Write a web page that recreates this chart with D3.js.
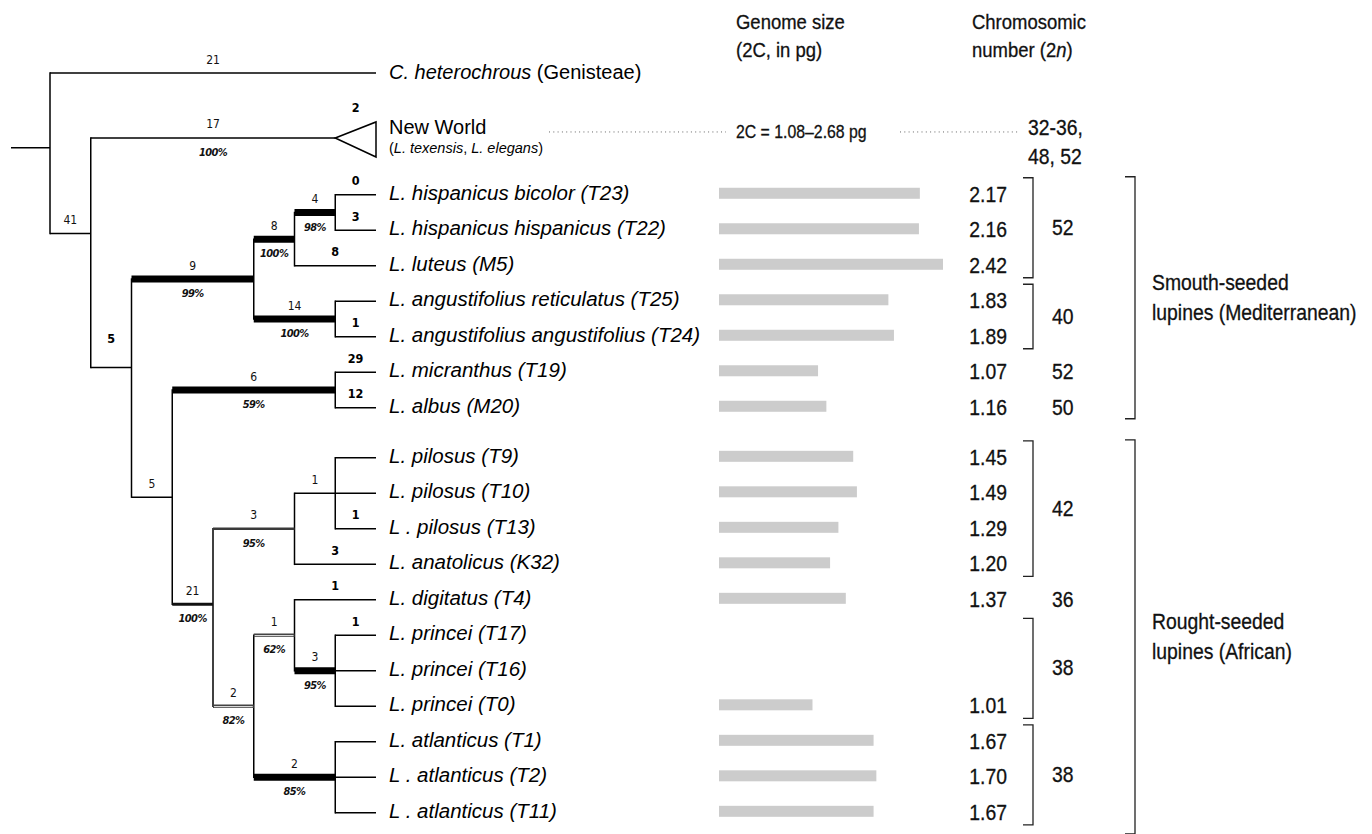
<!DOCTYPE html>
<html><head><meta charset="utf-8">
<script src="https://cdn.jsdelivr.net/npm/d3@7"></script>
<style>
html,body{margin:0;padding:0;background:#fff;}
svg{display:block;}
</style></head><body>
<svg id="chart" width="1372" height="834"></svg>
<script>
// ================= DATA =================
const tipNames = [
  "C. heterochrous", "New World",
  "L. hispanicus bicolor (T23)", "L. hispanicus hispanicus (T22)", "L. luteus (M5)",
  "L. angustifolius reticulatus (T25)", "L. angustifolius angustifolius (T24)",
  "L. micranthus (T19)", "L. albus (M20)",
  "L. pilosus (T9)", "L. pilosus (T10)", "L . pilosus (T13)", "L. anatolicus (K32)",
  "L. digitatus (T4)", "L. princei (T17)", "L. princei (T16)", "L. princei (T0)",
  "L. atlanticus (T1)", "L . atlanticus (T2)", "L . atlanticus (T11)"
];
const genomeSize = [null, null, 2.17, 2.16, 2.42, 1.83, 1.89, 1.07, 1.16,
  1.45, 1.49, 1.29, 1.20, 1.37, null, null, 1.01, 1.67, 1.70, 1.67];

// tree topology: steps above branch, support below, bold = steps on branch, line = support class
const treeNodes = [
  {id:"root", parent:""},
  {id:"t0", parent:"root", steps:"21"},
  {id:"N1", parent:"root", steps:"41"},
  {id:"t1", parent:"N1", steps:"17", support:"100%", bold:"2", collapsed:true},
  {id:"N2", parent:"N1", bold:"5"},
  {id:"A",  parent:"N2", steps:"9", support:"99%", line:"strong"},
  {id:"B",  parent:"A",  steps:"8", support:"100%", line:"strong"},
  {id:"D",  parent:"B",  steps:"4", support:"98%", line:"strong"},
  {id:"t2", parent:"D", bold:"0"},
  {id:"t3", parent:"D", bold:"3"},
  {id:"t4", parent:"B", bold:"8"},
  {id:"Cc", parent:"A",  steps:"14", support:"100%", line:"strong"},
  {id:"t5", parent:"Cc"},
  {id:"t6", parent:"Cc", bold:"1"},
  {id:"N4", parent:"N2", steps:"5"},
  {id:"E",  parent:"N4", steps:"6", support:"59%", line:"strong"},
  {id:"t7", parent:"E", bold:"29"},
  {id:"t8", parent:"E", bold:"12"},
  {id:"N5", parent:"N4", steps:"21", support:"100%", line:"medium"},
  {id:"F",  parent:"N5", steps:"3", support:"95%", line:"grey"},
  {id:"H",  parent:"F",  steps:"1"},
  {id:"t9", parent:"H"},
  {id:"t10", parent:"H"},
  {id:"t11", parent:"H", bold:"1"},
  {id:"t12", parent:"F", bold:"3"},
  {id:"G",  parent:"N5", steps:"2", support:"82%", line:"double"},
  {id:"I",  parent:"G",  steps:"1", support:"62%", line:"double"},
  {id:"t13", parent:"I", bold:"1"},
  {id:"K",  parent:"I",  steps:"3", support:"95%", line:"strong"},
  {id:"t14", parent:"K", bold:"1"},
  {id:"t15", parent:"K"},
  {id:"t16", parent:"K"},
  {id:"J",  parent:"G",  steps:"2", support:"85%", line:"strong"},
  {id:"t17", parent:"J"},
  {id:"t18", parent:"J"},
  {id:"t19", parent:"J"}
];

// chromosome numbers (2n) per group of tips
const chromoGroups = [
  {label:"52", from:2, to:4, bracket:true},
  {label:"40", from:5, to:6, bracket:true},
  {label:"52", from:7, to:7, bracket:false},
  {label:"50", from:8, to:8, bracket:false},
  {label:"42", from:9, to:12, bracket:true},
  {label:"36", from:13, to:13, bracket:false},
  {label:"38", from:14, to:16, bracket:true},
  {label:"38", from:17, to:19, bracket:true}
];
const cladeGroups = [
  {lines:["Smouth-seeded", "lupines (Mediterranean)"], from:2, to:8},
  {lines:["Rought-seeded", "lupines (African)"], from:9, to:19}
];
const newWorldGenome = "2C = 1.08\u20132.68 pg";
const newWorldChromo = ["32-36,", "48, 52"];

// ================= LAYOUT =================
const W = 1372, Hpx = 834;
const svg = d3.select("#chart");
const NARROW = 0.88;
const rightFont = "'Liberation Sans', Arial, sans-serif";

const gapAfter = {0: 0.83, 1: 0.6, 8: 0.41};
const slots = [];
{ let s = 0; tipNames.forEach((_, i) => { slots.push(s); s += 1 + (gapAfter[i] || 0); }); }
const yRow = d3.scaleLinear().domain([0, 1]).range([73, 108.5]);
const tipY = i => yRow(slots[i]);

// where a node sits between its first and last child (drawing convention of the figure)
const attach = {root: 0.466, N1: 0.416, N2: 0.405, N5: 0.425};

const root = d3.stratify().id(d => d.id).parentId(d => d.parent || null)(treeNodes);
const H = root.height;
const xDepth = d3.scaleLinear().domain([0, H]).range([50, 376]);
root.eachAfter(n => {
  if (!n.children) n.py = tipY(+n.id.slice(1));
  else {
    const a = n.children[0].py, b = n.children[n.children.length - 1].py;
    const f = attach[n.id] != null ? attach[n.id] : 0.5;
    n.py = a + f * (b - a);
  }
  n.px = xDepth(H - n.height);
});

const gTree = svg.append("g");
// root stub
gTree.append("line").attr("x1", 11).attr("x2", root.px).attr("y1", root.py).attr("y2", root.py)
  .attr("stroke", "#000").attr("stroke-width", 1.5);

// verticals
root.descendants().filter(n => n.children).forEach(n => {
  gTree.append("line").attr("x1", n.px).attr("x2", n.px)
    .attr("y1", n.children[0].py - 0.75).attr("y2", n.children[n.children.length - 1].py + 0.75)
    .attr("stroke", "#000").attr("stroke-width", 1.5);
});

// horizontals
const lblFont = "'DejaVu Sans Condensed', 'DejaVu Sans', sans-serif";
root.descendants().filter(n => n.parent).forEach(n => {
  const d = n.data;
  const x1 = n.parent.px;
  const x2 = d.collapsed ? xDepth(H - 1) : n.px;
  const y = n.py;
  const cls = d.line || "thin";
  if (cls === "double") {
    gTree.append("line").attr("x1", x1).attr("x2", x2).attr("y1", y).attr("y2", y)
      .attr("stroke", "#444").attr("stroke-width", 3.6);
    gTree.append("line").attr("x1", x1 + 1).attr("x2", x2 - 1).attr("y1", y + 0.3).attr("y2", y + 0.3)
      .attr("stroke", "#d8d8d8").attr("stroke-width", 1.2);
  } else {
    const sw = {thin: 1.5, strong: 7, medium: 3, grey: 2.4}[cls];
    const col = {thin: "#000", strong: "#000", medium: "#111", grey: "#3a3a3a"}[cls];
    gTree.append("line").attr("x1", x1).attr("x2", x2).attr("y1", y).attr("y2", y)
      .attr("stroke", col).attr("stroke-width", sw);
  }
  if (d.collapsed) {
    const xa = xDepth(H - 1), xb = xDepth(H);
    gTree.append("path")
      .attr("d", `M${xa},${y} L${xb},${y - 16} L${xb},${y + 19} Z`)
      .attr("fill", "#fff").attr("stroke", "#000").attr("stroke-width", 1.5).attr("stroke-linejoin", "miter");
  }
  const xm = (x1 + x2) / 2;
  const xmTip = d.collapsed ? (xDepth(H - 1) + xDepth(H)) / 2 : xm;
  if (d.steps) {
    gTree.append("text").attr("x", xm).attr("y", y - 9.5).attr("text-anchor", "middle")
      .attr("font-family", lblFont).attr("font-size", 12).attr("fill", "#111").text(d.steps);
  }
  if (d.support) {
    gTree.append("text").attr("x", xm).attr("y", y + 18).attr("text-anchor", "middle")
      .attr("font-family", lblFont).attr("font-size", 11).attr("font-weight", "bold")
      .attr("font-style", "italic").attr("letter-spacing", -0.6).attr("fill", "#111").text(d.support);
  }
  if (d.bold) {
    const lift = d.collapsed ? 16 : (n.children ? 15 : 0);
    gTree.append("text").attr("x", d.collapsed ? xmTip : xm).attr("y", y - 9.5 - lift).attr("text-anchor", "middle")
      .attr("font-family", lblFont).attr("font-size", 12.5).attr("font-weight", "bold")
      .attr("fill", "#000").text(d.bold);
  }
});

// tip labels
const tipX = 389;
const gLab = svg.append("g").attr("font-family", "'Liberation Sans', Arial, sans-serif").attr("fill", "#000");
tipNames.forEach((name, i) => {
  const y = tipY(i);
  if (i === 0) {
    const t = gLab.append("text").attr("x", tipX).attr("y", y + 6).attr("font-size", 20);
    t.append("tspan").attr("font-style", "italic").text(name);
    t.append("tspan").text(" (Genisteae)");
  } else if (i === 1) {
    gLab.append("text").attr("x", tipX).attr("y", y - 4).attr("font-size", 20).text(name);
    const s = gLab.append("text").attr("x", tipX).attr("y", y + 15.5).attr("font-size", 14.5);
    s.append("tspan").text("(");
    s.append("tspan").attr("font-style", "italic").text("L. texensis");
    s.append("tspan").text(", ");
    s.append("tspan").attr("font-style", "italic").text("L. elegans");
    s.append("tspan").text(")");
  } else {
    gLab.append("text").attr("x", tipX).attr("y", y + 5).attr("font-size", 20.5)
      .attr("font-style", "italic").text(name);
  }
});

// ================= RIGHT PANELS =================
const gR = svg.append("g").attr("font-family", rightFont).attr("fill", "#111")
  .attr("stroke", "#111").attr("stroke-width", 0.3);
function ntext(x, y, size, anchor) {
  return gR.append("text").attr("transform", `translate(${x},${y}) scale(${NARROW},1)`)
    .attr("font-size", size).attr("text-anchor", anchor || "start");
}

// headers
const hdrX1 = 736, hdrX2 = 972;
ntext(hdrX1, 29, 21).text("Genome size");
ntext(hdrX1, 57, 21).text("(2C, in pg)");
ntext(hdrX2, 29, 21).text("Chromosomic");
{
  const t = ntext(hdrX2, 57, 21);
  t.append("tspan").text("number (2");
  t.append("tspan").attr("font-style", "italic").text("n");
  t.append("tspan").text(")");
}

// genome bars
const xBar = d3.scaleLinear().domain([0, 2.42]).range([719, 943]);
const barH = 11;
svg.append("g").selectAll("rect")
  .data(genomeSize.map((v, i) => ({v, i})).filter(d => d.v != null))
  .join("rect")
  .attr("x", xBar(0)).attr("width", d => xBar(d.v) - xBar(0))
  .attr("y", d => tipY(d.i) - 1.5 - barH / 2).attr("height", barH)
  .attr("fill", "#cccccc");

// genome values
genomeSize.forEach((v, i) => {
  if (v == null) return;
  ntext(1007, tipY(i) + 7, 22, "end").text(v.toFixed(2));
});

// New World row
const yNW = tipY(1);
svg.append("line").attr("x1", 549).attr("x2", 726).attr("y1", yNW - 6).attr("y2", yNW - 6)
  .attr("stroke", "#666").attr("stroke-width", 1).attr("stroke-dasharray", "1,3.3");
svg.append("line").attr("x1", 900).attr("x2", 1018).attr("y1", yNW - 6).attr("y2", yNW - 6)
  .attr("stroke", "#666").attr("stroke-width", 1).attr("stroke-dasharray", "1,3.3");
ntext(736, yNW, 18).text(newWorldGenome);
ntext(1028, yNW - 3, 22).text(newWorldChromo[0]);
ntext(1028, yNW + 26, 22).text(newWorldChromo[1]);

// chromosome numbers + small brackets
const brX = 1033, brTick = 10;
chromoGroups.forEach(g => {
  const y1 = tipY(g.from), y2 = tipY(g.to);
  const top = y1 - 17, bot = y2 + 12;
  const cy = g.bracket ? (top + bot) / 2 : y1;
  if (g.bracket) {
    gR.append("path").attr("d", `M${brX - brTick},${top} H${brX} V${bot} H${brX - brTick}`)
      .attr("fill", "none").attr("stroke", "#222").attr("stroke-width", 1.3);
  }
  ntext(1052, cy + 7, 22).text(g.label);
});

// clade brackets (the last one runs off the bottom of the figure)
const bigX = 1135;
cladeGroups.forEach((g, k) => {
  const top = tipY(g.from) - 18;
  const bot = k === cladeGroups.length - 1 ? Hpx : tipY(g.to) + 11;
  gR.append("path").attr("d", `M${bigX - brTick},${top} H${bigX} V${bot} H${bigX - brTick}`)
    .attr("fill", "none").attr("stroke", "#222").attr("stroke-width", 1.3);
  const cy = (top + bot) / 2;
  ntext(1152, cy - 15 + 7, 22).text(g.lines[0]);
  ntext(1152, cy + 15 + 7, 22).text(g.lines[1]);
});
</script>
</body></html>
